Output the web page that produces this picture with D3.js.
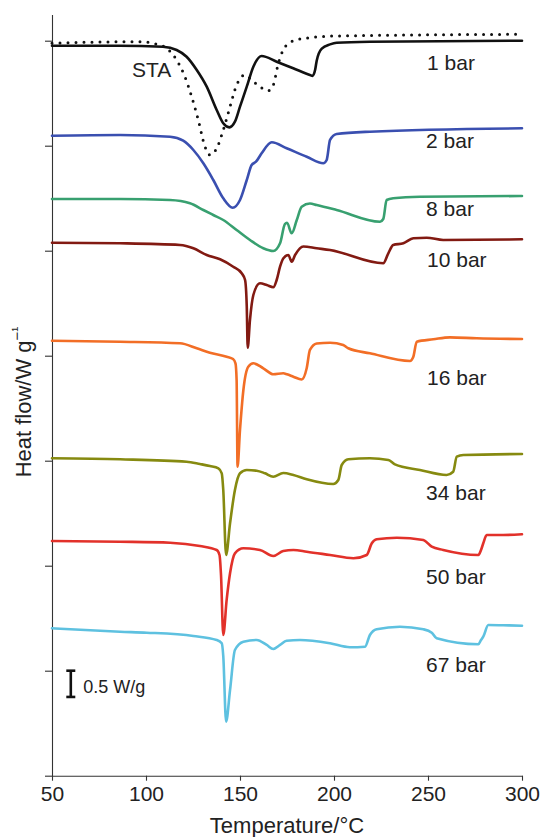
<!DOCTYPE html>
<html>
<head>
<meta charset="utf-8">
<script src="https://cdn.jsdelivr.net/npm/d3@7"></script>
<style>
  html, body { margin: 0; padding: 0; background: #fff; }
  svg { display: block; font-family: "Liberation Sans", Arial, Helvetica, sans-serif; }
</style>
</head>
<body>
<svg id="chart" width="540" height="837"></svg>
<script>
// ---- Data: [temperature °C, heat flow W/g (offset)] ----
const xTicks = [50, 100, 150, 200, 250, 300];
const yTicks = [0, 2, 4, 6, 8, 10, 12, 14];

const sta = [[50,13.95],[75.5,13.975],[96.8,13.981],[103.9,13.95],[111,13.855],[116.3,13.632],[120.7,13.314],[124.3,12.933],[127.8,12.49],[131.4,11.981],[134,11.823],[137.6,11.95],[141.1,12.299],[144.7,12.743],[148.2,13.156],[152.7,13.347],[156.2,13.251],[160.6,13.124],[165.1,13.048],[167.7,13.156],[170.4,13.57],[173,13.823],[178.4,14.0],[189,14.065],[201.4,14.09],[300,14.122]];

const bar1 = [[50,13.905],[86,13.905],[109,13.886],[116.3,13.823],[121.6,13.695],[127,13.442],[132.3,13.124],[137.6,12.68],[141.1,12.427],[144.3,12.35],[147.3,12.457],[150,12.743],[153.6,13.124],[157.1,13.505],[161.5,13.709],[169.5,13.6],[178.3,13.474],[187.2,13.347],[188.6,13.33],[190,13.45],[190.8,13.62],[193.5,13.85],[197.9,13.93],[201.4,13.962],[219,13.981],[300,14.0]];

const bar2 = [[50,12.19],[86.2,12.204],[112.8,12.171],[119.8,12.095],[125.2,11.918],[130.5,11.665],[135.8,11.347],[141.1,10.998],[146.1,10.819],[150,10.966],[153.6,11.347],[156.2,11.632],[158.5,11.695],[161.5,11.855],[166.9,12.065],[174.8,11.95],[185.5,11.79],[194.3,11.665],[196.1,11.728],[197.9,12.109],[201.4,12.223],[219.1,12.267],[300,12.331]];

const bar8 = [[50,10.985],[86.2,10.985],[112.8,10.966],[123.4,10.903],[130.5,10.775],[135.8,10.68],[141.1,10.585],[148.2,10.394],[155.3,10.204],[162.4,10.046],[167.7,9.994],[171.3,10.141],[173.9,10.509],[175,10.533],[177.5,10.331],[180.2,10.585],[182.8,10.838],[187.2,10.899],[190.8,10.87],[201.4,10.775],[224.5,10.552],[226.2,10.604],[228,10.966],[231.5,10.998],[245.7,11.029],[300,11.042]];

const bar10 = [[50,10.152],[86.2,10.141],[118.1,10.109],[125.2,10.046],[132.3,9.918],[139.4,9.836],[146.4,9.695],[150.9,9.57],[152.7,9.442],[153.6,8.933],[154.1,8.152],[155.3,8.68],[157.1,9.156],[160.6,9.379],[164.2,9.347],[167.7,9.303],[169.5,9.442],[171.3,9.695],[173.1,9.855],[175.7,9.918],[177.5,9.79],[179.3,9.918],[183.7,10.08],[190.8,10.046],[197.9,10.013],[226.2,9.76],[228.9,9.95],[231.5,10.109],[236.9,10.141],[242.2,10.236],[249.3,10.248],[258.1,10.204],[300,10.217]];

const bar16 = [[50,8.286],[86.2,8.267],[118.1,8.236],[127,8.141],[134,8.057],[142.9,7.981],[146.3,7.937],[147.6,7.855],[148.2,7.537],[148.7,5.886],[150,6.585],[151.8,7.347],[154.4,7.79],[157.1,7.855],[162.4,7.76],[167.7,7.646],[173,7.665],[175,7.646],[178.4,7.6],[182.8,7.547],[185.5,7.766],[187.2,8.109],[190.8,8.232],[197.9,8.248],[204.9,8.204],[207.6,8.141],[219.1,8.046],[240.4,7.899],[242.2,7.981],[244,8.267],[252.8,8.312],[261.7,8.35],[275.9,8.331],[300,8.318]];

const bar34 = [[50,6.046],[86.2,6.027],[121.6,5.981],[128.7,5.937],[134,5.899],[138.5,5.855],[140.3,5.76],[141.1,5.442],[142.6,4.204],[144.7,4.808],[147.3,5.442],[150,5.76],[153.6,5.823],[158.9,5.81],[163.3,5.76],[167.7,5.695],[173,5.766],[178.4,5.728],[185.5,5.646],[199.6,5.556],[202.3,5.632],[204.1,5.918],[207.6,6.027],[219.1,6.046],[228.9,6.013],[232.4,5.931],[245.7,5.823],[259.9,5.728],[263.4,5.79],[265.3,6.076],[268.8,6.109],[300,6.128]];

const bar50 = [[50,4.47],[86.2,4.457],[112.8,4.438],[128.7,4.375],[137.6,4.299],[139.1,4.204],[139.9,3.823],[141.1,2.68],[142.9,3.347],[144.7,3.855],[147.3,4.236],[151.8,4.331],[160.6,4.299],[167.7,4.185],[173,4.28],[178.4,4.299],[185.5,4.267],[197.9,4.204],[210.3,4.141],[217.4,4.204],[220.1,4.427],[222.7,4.503],[233.4,4.533],[247.5,4.49],[252,4.362],[258.1,4.299],[276.8,4.204],[278.2,4.299],[279.4,4.427],[281.2,4.585],[290,4.585],[300,4.598]];

const bar67 = [[50,2.808],[86.2,2.743],[100.4,2.724],[125.2,2.661],[137.6,2.585],[140.3,2.522],[141.1,2.28],[142.6,1.029],[144.7,1.632],[147.3,2.394],[151.8,2.552],[158.9,2.585],[164.2,2.49],[167.7,2.413],[171.3,2.49],[174.8,2.571],[181.9,2.585],[197.9,2.522],[208.5,2.446],[216.5,2.457],[219.1,2.68],[222.7,2.789],[235.1,2.838],[247.5,2.789],[252,2.724],[254.6,2.617],[276.8,2.503],[278.2,2.585],[279.4,2.648],[282.1,2.87],[290,2.865],[300,2.857]];

const seriesNames  = ["STA", "1 bar", "2 bar", "8 bar", "10 bar", "16 bar", "34 bar", "50 bar", "67 bar"];
const seriesData   = [sta, bar1, bar2, bar8, bar10, bar16, bar34, bar50, bar67];
const seriesColors = ["#111111", "#111111", "#3a4fb0", "#38a070", "#821a12", "#f26e26", "#868a10", "#e2312a", "#5ec1e0"];
// label anchor: [temperature, heat flow] of text baseline start
const labelPos = [[92.5, 13.3], [249.5, 13.44], [249, 11.95], [249, 10.66], [249.5, 9.695], [249.5, 7.44], [249, 5.25], [249, 3.65], [249, 1.98]];

const scaleBarVals = [1.5, 2.0];   // 0.5 W/g scale bar
const scaleBarT = 60;

// ---- Chart ----
const svg = d3.select("#chart");
const x = d3.scaleLinear().domain([50, 300]).range([52, 522]);
const y = d3.scaleLinear().domain([0, 14.5]).range([775.7, 14.45]);

const axisColor = "#333";

// X axis
const gx = svg.append("g").attr("transform", `translate(0,${y(0)})`)
  .call(d3.axisBottom(x).tickValues(xTicks).tickSize(5).tickPadding(5).tickSizeOuter(0));
gx.select(".domain").attr("stroke", axisColor).attr("stroke-width", 1.1);
gx.selectAll(".tick line").attr("stroke", axisColor).attr("stroke-width", 1.1);
gx.selectAll(".tick text").attr("font-size", 21).attr("fill", "#222")
  .attr("font-family", "Liberation Sans, Arial, sans-serif").attr("dy", "0.71em");

// Y axis (no labels)
const gy = svg.append("g").attr("transform", `translate(${x(50)},0)`)
  .call(d3.axisLeft(y).tickValues(yTicks).tickSize(7).tickFormat("").tickSizeOuter(0));
gy.select(".domain").attr("stroke", axisColor).attr("stroke-width", 1.1);
gy.selectAll(".tick line").attr("stroke", axisColor).attr("stroke-width", 1.1);

// Axis titles
svg.append("text").attr("x", (x(50) + x(300)) / 2).attr("y", 833)
  .attr("text-anchor", "middle").attr("font-size", 22).attr("fill", "#222")
  .text("Temperature/°C");

const yt = svg.append("text")
  .attr("transform", `translate(31,${402}) rotate(-90)`)
  .attr("text-anchor", "middle").attr("font-size", 22).attr("fill", "#222");
yt.append("tspan").text("Heat flow/W g");
yt.append("tspan").attr("dy", -9).attr("font-size", 15).text("\u2212\u00B9");

// Lines
const line = d3.line().x(d => x(d[0])).y(d => y(d[1])).curve(d3.curveMonotoneX);

seriesData.forEach((data, i) => {
  const p = svg.append("path").datum(data)
    .attr("d", line)
    .attr("fill", "none")
    .attr("stroke", seriesColors[i])
    .attr("stroke-linejoin", "round")
    .attr("stroke-linecap", "round");
  if (seriesNames[i] === "STA") {
    p.attr("stroke-width", 3).attr("stroke-dasharray", "0 8");
  } else {
    p.attr("stroke-width", 2.6);
  }
});

// Labels
seriesNames.forEach((name, i) => {
  svg.append("text")
    .attr("x", x(labelPos[i][0])).attr("y", y(labelPos[i][1]))
    .attr("font-size", 21).attr("fill", "#222")
    .text(name);
});

// Scale bar
const sb = svg.append("g").attr("stroke", "#111").attr("stroke-width", 2.6);
sb.append("line").attr("x1", x(scaleBarT)).attr("x2", x(scaleBarT))
  .attr("y1", y(scaleBarVals[0])).attr("y2", y(scaleBarVals[1]));
scaleBarVals.forEach(v => {
  sb.append("line").attr("x1", x(scaleBarT) - 4.5).attr("x2", x(scaleBarT) + 4.5)
    .attr("y1", y(v)).attr("y2", y(v));
});
svg.append("text").attr("x", x(scaleBarT) + 12.5).attr("y", y(scaleBarVals[0]) - 4)
  .attr("font-size", 18).attr("fill", "#222").text("0.5 W/g");
</script>
</body>
</html>
